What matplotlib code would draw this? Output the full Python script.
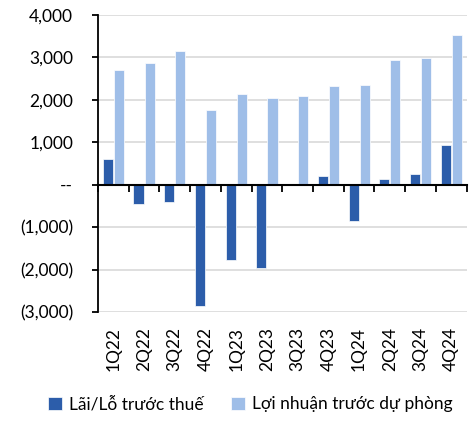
import matplotlib
matplotlib.use('Agg')
import matplotlib.pyplot as plt
from matplotlib.ticker import FuncFormatter
import numpy as np

plt.rcParams['font.family'] = ['Lato', 'DejaVu Sans']

quarters = ['1Q22', '2Q22', '3Q22', '4Q22', '1Q23', '2Q23',
            '3Q23', '4Q23', '1Q24', '2Q24', '3Q24', '4Q24']
pretax = [600, -465, -410, -2850, -1770, -1970, 0, 200, -857, 130, 255, 930]
preprov = [2700, 2860, 3150, 1756, 2148, 2038, 2100, 2335, 2354, 2930, 2993, 3525]
series_names = ['Lãi/Lỗ trước thuế', 'Lợi nhuận trước dự phòng']

dark = '#2C5DAA'
light = '#9FBEE8'

fig = plt.figure(figsize=(4.72, 4.23), dpi=100)
ax = fig.add_axes([0.2076, 0.2624, 0.781, 0.702])

x = np.arange(len(quarters))
w = 0.33
ax.bar(x - 0.18, pretax, w, color=dark, edgecolor='white', linewidth=0.5,
       label=series_names[0], zorder=3)
ax.bar(x + 0.18, preprov, w, color=light, edgecolor='white', linewidth=0.5,
       label=series_names[1], zorder=3)

ylo, yhi = -3000, 4000
ax.set_ylim(ylo, yhi)
ax.set_xlim(-0.5, len(quarters) - 0.5)
ax.set_yticks(np.arange(ylo, yhi + 1, 1000))


def fmt(v, pos):
    if v == 0:
        return '--'
    if v < 0:
        return '({:,.0f})'.format(-v)
    return '{:,.0f}'.format(v)


ax.yaxis.set_major_formatter(FuncFormatter(fmt))
ax.grid(axis='y', color='#d9d9d9', linewidth=1.2, zorder=0)

for s in ['top', 'right', 'bottom']:
    ax.spines[s].set_visible(False)
ax.spines['left'].set_color('black')
ax.spines['left'].set_linewidth(1.3)
ax.tick_params(axis='y', direction='out', length=4.3, width=1.3, labelsize=12.5,
               colors='black', pad=13.5)

ax.set_xticks(x)
ax.set_xticklabels(quarters, rotation=90, fontsize=12.5)
ax.tick_params(axis='x', length=0, pad=11)

# zero line with category boundary ticks
sec = ax.secondary_xaxis((0 - ylo) / (yhi - ylo))
sec.spines['bottom'].set_linewidth(1.5)
sec.spines['bottom'].set_color('black')
sec.set_xticks(np.arange(len(quarters) + 1) - 0.5)
sec.set_xticklabels([])
sec.tick_params(axis='x', direction='out', length=5, width=1.3)
sec.set_zorder(4)

fig.legend(loc='lower center', bbox_to_anchor=(0.53, -0.012), ncol=2, frameon=False,
           fontsize=12.5, handlelength=0.8, handleheight=0.8, handletextpad=0.4,
           columnspacing=1.6)

fig.savefig('out.png', dpi=100)
